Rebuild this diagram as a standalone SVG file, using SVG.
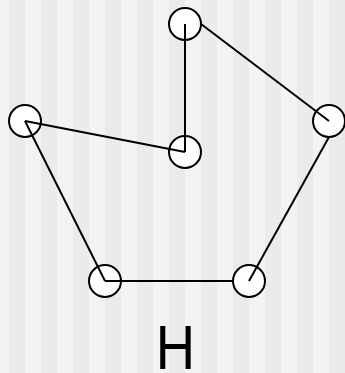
<svg xmlns="http://www.w3.org/2000/svg" width="345" height="373" viewBox="0 0 345 373">
  <defs>
    <pattern id="stripes" x="0" y="0" width="32" height="373" patternUnits="userSpaceOnUse">
      <rect x="0" y="0" width="32" height="373" fill="#f3f3f3"/>
      <rect x="9" y="0" width="16" height="373" fill="#ebebeb"/>
    </pattern>
  </defs>
  <style>
    .node { fill: #ffffff; stroke: #000000; stroke-width: 2; }
    .edge { stroke: #000000; stroke-width: 2; fill: none; }
    .label { font-family: "Liberation Sans", Arial, sans-serif; font-size: 63px; fill: #000000; }
  </style>
  <rect x="0" y="0" width="345" height="373" fill="url(#stripes)"/>
  <g id="node-top"><circle class="node" cx="185" cy="24" r="16"/></g>
  <g id="node-right"><circle class="node" cx="329" cy="121" r="16"/></g>
  <g id="node-bottom-right"><circle class="node" cx="249" cy="281" r="16"/></g>
  <g id="node-bottom-left"><circle class="node" cx="105" cy="281" r="16"/></g>
  <g id="node-left"><circle class="node" cx="25" cy="121" r="16"/></g>
  <g id="node-center"><circle class="node" cx="185" cy="152" r="16"/></g>
  <g id="connectors">
    <line class="edge" x1="201" y1="24" x2="329" y2="121"/>
    <line class="edge" x1="329" y1="137" x2="249" y2="281"/>
    <line class="edge" x1="233" y1="281" x2="105" y2="281"/>
    <line class="edge" x1="105" y1="281" x2="25" y2="121"/>
    <line class="edge" x1="25" y1="121" x2="185" y2="152"/>
    <line class="edge" x1="185" y1="24" x2="185" y2="152"/>
  </g>
  <text class="label" text-anchor="middle" transform="translate(175.4,369) scale(0.865,1)">H</text>
</svg>
